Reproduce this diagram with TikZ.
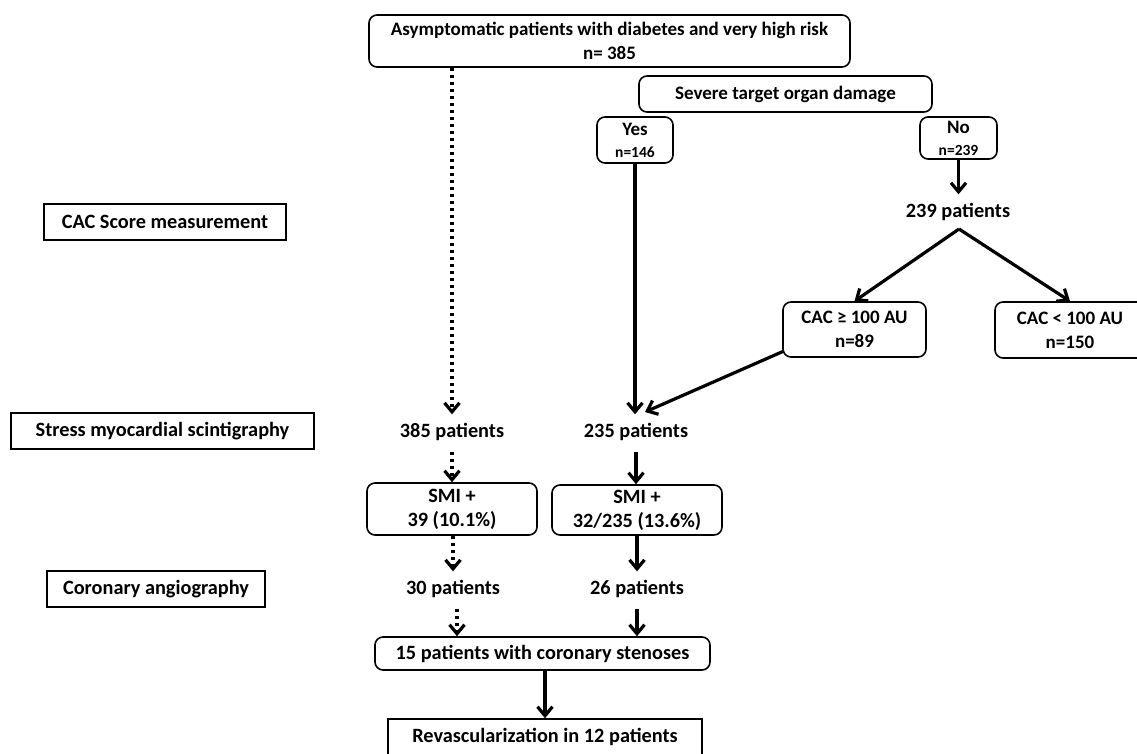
\documentclass[tikz,border=0pt]{standalone}
\usepackage{fontspec}
\setmainfont{Carlito}
\usetikzlibrary{arrows.meta,calc}
\newcommand\szA{\fontsize{19}{24}\selectfont\bfseries}
\newcommand\szB{\fontsize{20.3}{24}\selectfont\bfseries}
\newcommand\smallsz{\fontsize{15.5}{18}\selectfont\bfseries}
\tikzset{
  rbox/.style={draw, rounded corners=8pt, line width=1.6pt, align=center, inner sep=0pt, font=\szA},
  sbox/.style={draw, line width=1.6pt, align=center, inner sep=0pt, font=\szB},
  txt/.style={font=\szB, inner xsep=2pt, inner ysep=10pt, text height=13pt, text depth=4pt},
  solidarr/.style={line width=3.2pt, -{Straight Barb[length=9pt,width=15pt]}},
  dotarr/.style={line width=3.2pt, dash pattern=on 3pt off 4pt, -{Straight Barb[length=9pt,width=15pt]}},
}
\begin{document}
\begin{tikzpicture}[x=1pt,y=-1pt]
\useasboundingbox (0,0) rectangle (1137,753);
\clip (0,0) rectangle (1137,753);
% left stage labels
\node[sbox, minimum width=242pt, minimum height=36pt] (cacscore) at (165,222) {CAC Score measurement};
\node[sbox, minimum width=303pt, minimum height=36pt] (stress) at (162.5,431) {Stress myocardial scintigraphy};
\node[sbox, minimum width=218pt, minimum height=36pt] (coro) at (156,589) {Coronary angiography};
% main flow
\node[rbox, minimum width=481pt, minimum height=52pt] (top) at (609.5,41) {Asymptomatic patients with diabetes and very high risk\\n= 385};
\node[rbox, minimum width=293pt, minimum height=36pt] (severe) at (785.5,94) {Severe target organ damage};
\node[rbox, minimum width=76pt, minimum height=46pt] (yes) at (635,140) {Yes\\[-2pt]{\smallsz n=146}};
\node[rbox, minimum width=77pt, minimum height=42pt] (no) at (958.5,138) {No\\[-2pt]{\smallsz n=239}};
\node[txt] (p239) at (958,213) {239 patients};
\coordinate (v) at (959,229);
\node[rbox, minimum width=143pt, minimum height=55pt] (cac1) at (854.5,329.5) {CAC ≥ 100 AU\\n=89};
\node[rbox, minimum width=150pt, minimum height=56pt] (cac2) at (1070,330) {CAC < 100 AU\\n=150};
\coordinate (cacout) at (784,351);
\coordinate (tip235) at (645,412);
\node[txt] (p385) at (452,433) {385 patients};
\node[txt] (p235) at (636,433) {235 patients};
\node[rbox, font=\szB, minimum width=170pt, minimum height=52pt] (smi1) at (452,509) {SMI +\\39 (10.1\%)};
\node[rbox, font=\szB, minimum width=170pt, minimum height=50pt] (smi2) at (637,510) {SMI +\\32/235 (13.6\%)};
\node[txt] (p30) at (453,590) {30 patients};
\node[txt] (p26) at (637,590) {26 patients};
\node[rbox, font=\szB, minimum width=335pt, minimum height=33pt] (sten) at (542.5,653.5) {15 patients with coronary stenoses};
\node[sbox, minimum width=314pt, minimum height=44pt] (rev) at (545,741) {};
\node[font=\szB] (revtxt) at (545,737) {Revascularization in 12 patients};
% connectors
\draw[dotarr] (p385 |- top.south) -- (p385.north);
\draw[solidarr] (yes.south) -- (yes.south |- p235.north);
\draw[solidarr] (no.south) -- (no.south |- p239.north);
\draw[solidarr] (v) -- (cac1.north);
\draw[solidarr] (v) -- (cac2.north);
\draw[solidarr] (cacout) -- (tip235);
\draw[dotarr] (p385.south) -- (p385.south |- smi1.north);
\draw[solidarr] (p235.south) -- (p235.south |- smi2.north);
\draw[dotarr] (smi1.south -| p30) -- (p30.north);
\draw[solidarr] (smi2.south -| p26) -- (p26.north);
\draw[dotarr] ($(p30.south)+(4,0)$) -- ($(p30.south |- sten.north)+(4,0)$);
\draw[solidarr] (p26.south) -- (p26.south |- sten.north);
\draw[solidarr] (sten.south -| rev) -- (rev.north);
\end{tikzpicture}
\end{document}
